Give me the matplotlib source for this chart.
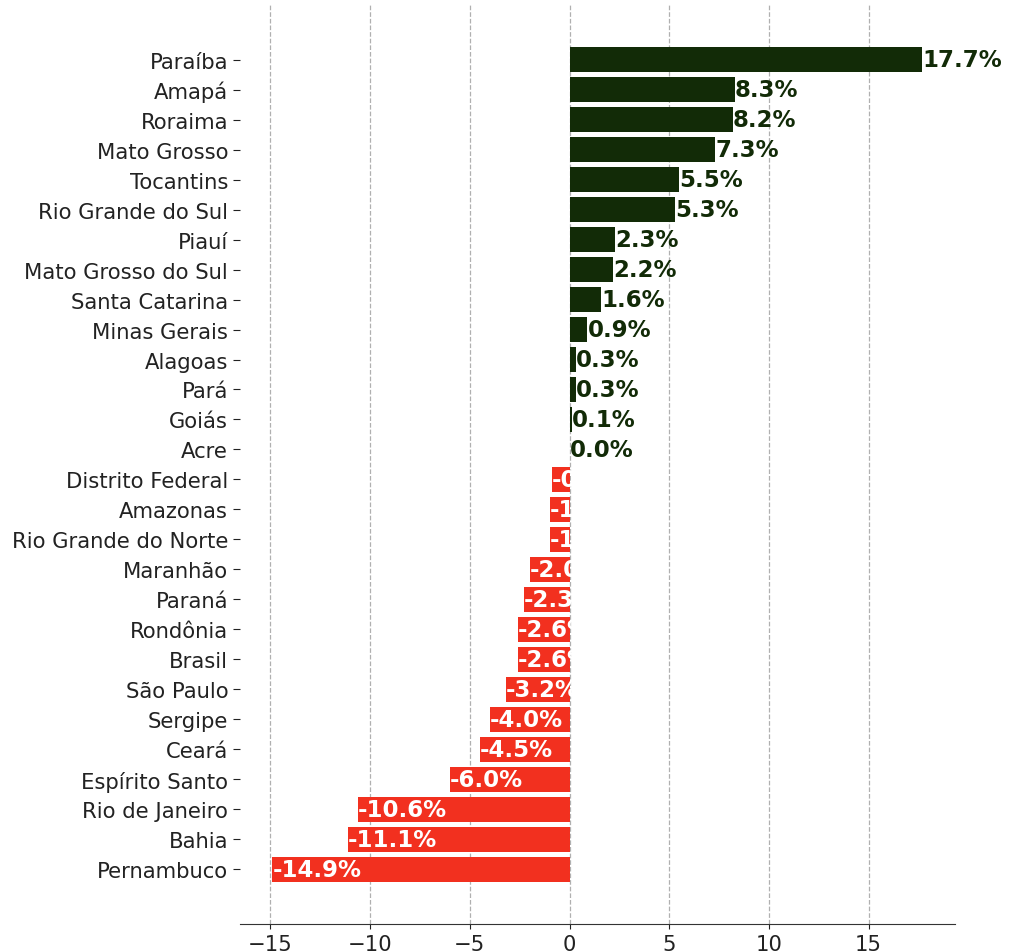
import matplotlib
matplotlib.use("Agg")
import matplotlib.pyplot as plt

# states ordered top -> bottom as in the chart
states = ["Paraíba", "Amapá", "Roraima", "Mato Grosso", "Tocantins", "Rio Grande do Sul",
          "Piauí", "Mato Grosso do Sul", "Santa Catarina", "Minas Gerais", "Alagoas", "Pará",
          "Goiás", "Acre", "Distrito Federal", "Amazonas", "Rio Grande do Norte", "Maranhão",
          "Paraná", "Rondônia", "Brasil", "São Paulo", "Sergipe", "Ceará", "Espírito Santo",
          "Rio de Janeiro", "Bahia", "Pernambuco"]
variation = [17.7, 8.3, 8.2, 7.3, 5.5, 5.3, 2.3, 2.2, 1.6, 0.9, 0.3, 0.3, 0.1, 0.04,
             -0.9, -1.0, -1.0, -2.0, -2.3, -2.6, -2.6, -3.2, -4.0, -4.5, -6.0,
             -10.6, -11.1, -14.9]

GREEN = "#122b07"
RED = "#f2301f"

# bottom -> top for barh
names = states[::-1]
values = variation[::-1]
colors = [GREEN if v >= 0 else RED for v in values]

fig = plt.figure(figsize=(10.1, 9.53), dpi=100)
ax = fig.add_axes([0.2376, 0.0294, 0.7079, 0.9643])

ax.barh(range(len(names)), values, color=colors, height=0.85, zorder=2)
ax.set_yticks(range(len(names)))
ax.set_yticklabels(names)
ax.tick_params(axis="both", labelsize=15.2, colors="#222222")
ax.tick_params(axis="y", length=5)

for i, v in enumerate(values):
    txt = f"{v:.1f}%"
    col = GREEN if v >= 0 else "white"
    ax.text(v, i, txt, ha="left", va="center", fontsize=16.5, fontweight="bold",
            color=col, zorder=3)

ax.xaxis.grid(True, linestyle="--", color="#b0b0b0", linewidth=0.9, zorder=0)
ax.set_axisbelow(True)
for s in ["top", "right", "left"]:
    ax.spines[s].set_visible(False)
ax.spines["bottom"].set_color("#333333")

fig.savefig("out.png", dpi=100)
